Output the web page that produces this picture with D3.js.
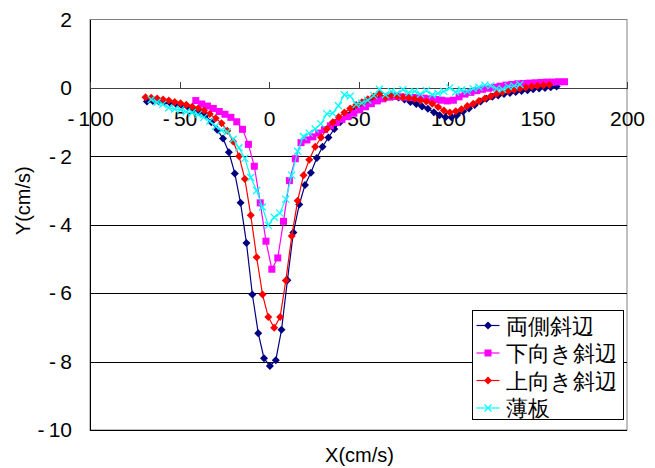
<!DOCTYPE html>
<html>
<head>
<meta charset="utf-8">
<script src="https://cdn.jsdelivr.net/npm/d3@7"></script>
<style>
  body { margin: 0; background: #fff; }
  text { font-family: "Liberation Sans", Arial, sans-serif; }
</style>
</head>
<body>
<div id="graf"></div>
<script>
// Velocity profile chart: Y(cm/s) against X(cm/s), four series

// Data
seriesNames = ['両側斜辺', '下向き斜辺', '上向き斜辺', '薄板']

xRyosoku = [-68.2, -64.9, -61.6, -58.4, -55.1, -51.8, -48.6, -45.3, -42.0, -38.7, -35.5, -32.2, -28.9, -25.7, -22.4, -19.1, -15.9, -12.6, -9.3, -6.0, -2.8, 0.5, 3.8, 7.0, 10.3, 13.6, 16.9, 20.1, 23.4, 26.7, 29.9, 33.2, 36.5, 39.7, 43.0, 46.3, 49.6, 52.8, 56.1, 59.4, 62.6, 65.9, 69.2, 72.4, 75.7, 79.0, 82.3, 85.5, 88.8, 92.1, 95.3, 98.6, 101.9, 105.1, 108.4, 111.7, 114.9, 118.2, 121.5, 124.8, 128.0, 131.3, 134.6, 137.8, 141.1, 144.4, 147.6, 150.9, 154.2, 157.4, 160.7]
yRyosoku = [-0.40, -0.38, -0.40, -0.42, -0.45, -0.48, -0.52, -0.56, -0.62, -0.70, -0.80, -1.00, -1.22, -1.48, -1.88, -2.50, -3.36, -4.53, -6.04, -7.17, -7.90, -8.13, -7.96, -7.07, -5.62, -4.23, -3.41, -2.84, -2.48, -2.05, -1.72, -1.45, -1.20, -1.00, -0.78, -0.64, -0.54, -0.45, -0.38, -0.32, -0.28, -0.26, -0.26, -0.28, -0.34, -0.41, -0.47, -0.54, -0.61, -0.71, -0.80, -0.86, -0.86, -0.79, -0.69, -0.60, -0.50, -0.40, -0.32, -0.26, -0.22, -0.18, -0.15, -0.12, -0.09, -0.07, -0.04, -0.02, 0.00, 0.02, 0.04]

xShitamuki = [-40.9, -37.6, -34.4, -31.1, -27.8, -24.6, -21.3, -18.0, -14.8, -11.5, -8.2, -4.9, -1.7, 1.6, 4.9, 8.1, 11.4, 14.7, 17.9, 21.2, 24.5, 27.8, 31.0, 34.3, 37.6, 40.8, 44.1, 47.4, 50.7, 53.9, 57.2, 60.5, 63.7, 67.0, 70.3, 73.5, 76.8, 80.1, 83.4, 86.6, 89.9, 93.2, 96.4, 99.7, 103.0, 106.2, 109.5, 112.8, 116.1, 119.3, 122.6, 125.9, 129.1, 132.4, 135.7, 138.9, 142.2, 145.5, 148.8, 152.0, 155.3, 158.6, 161.8, 165.1]
yShitamuki = [-0.37, -0.47, -0.53, -0.60, -0.69, -0.77, -0.86, -0.99, -1.21, -1.65, -2.29, -3.36, -4.48, -5.30, -4.97, -3.90, -2.71, -2.07, -1.60, -1.52, -1.43, -1.32, -1.22, -1.11, -1.01, -0.92, -0.84, -0.74, -0.64, -0.55, -0.46, -0.38, -0.32, -0.27, -0.25, -0.26, -0.27, -0.28, -0.29, -0.30, -0.32, -0.34, -0.36, -0.38, -0.36, -0.26, -0.18, -0.13, -0.08, -0.04, -0.01, 0.02, 0.05, 0.08, 0.10, 0.12, 0.13, 0.14, 0.15, 0.16, 0.17, 0.17, 0.18, 0.18]

xUwamuki = [-69.0, -65.8, -62.5, -59.2, -56.0, -52.7, -49.4, -46.2, -42.9, -39.6, -36.3, -33.1, -29.8, -26.5, -23.3, -20.0, -16.7, -13.5, -10.2, -6.9, -3.6, -0.4, 2.9, 6.2, 9.4, 12.7, 16.0, 19.3, 22.5, 25.8, 29.1, 32.3, 35.6, 38.9, 42.1, 45.4, 48.7, 51.9, 55.2, 58.5, 61.8, 65.0, 68.3, 71.6, 74.8, 78.1, 81.4, 84.6, 87.9, 91.2, 94.5, 97.7, 101.0, 104.3, 107.5, 110.8, 114.1, 117.3, 120.6, 123.9, 127.1, 130.4, 133.7, 137.0, 140.2, 143.5, 146.8, 150.0, 153.3, 156.6]
yUwamuki = [-0.27, -0.29, -0.31, -0.34, -0.37, -0.41, -0.45, -0.49, -0.55, -0.60, -0.66, -0.76, -0.89, -1.03, -1.25, -1.57, -2.00, -2.66, -3.72, -4.95, -6.04, -6.70, -7.01, -6.70, -5.63, -4.33, -3.30, -2.55, -2.10, -1.72, -1.45, -1.20, -1.00, -0.85, -0.72, -0.60, -0.50, -0.42, -0.33, -0.25, -0.16, -0.28, -0.22, -0.24, -0.27, -0.29, -0.32, -0.36, -0.40, -0.46, -0.56, -0.66, -0.72, -0.68, -0.62, -0.53, -0.46, -0.38, -0.31, -0.24, -0.18, -0.13, -0.09, -0.05, -0.02, 0.01, 0.04, 0.06, 0.08, 0.09]

xHakuban = [-65.8, -62.5, -59.3, -56.0, -52.7, -49.5, -46.2, -42.9, -39.6, -36.4, -33.1, -29.8, -26.6, -23.3, -20.0, -16.8, -13.5, -10.2, -6.9, -3.7, -0.4, 2.9, 6.1, 9.4, 12.7, 16.0, 19.2, 22.5, 25.8, 29.0, 32.3, 35.6, 38.8, 42.1, 45.4, 48.7, 51.9, 55.2, 58.5, 61.7, 65.0, 68.3, 71.5, 74.8, 78.1, 81.4, 84.6, 87.9, 91.2, 94.4, 97.7, 101.0, 104.2, 107.5, 110.8, 114.1, 117.3, 120.6, 123.9, 127.1, 130.4, 133.7, 136.9, 140.2]
yHakuban = [-0.34, -0.42, -0.48, -0.58, -0.62, -0.64, -0.70, -0.72, -0.78, -0.86, -0.97, -1.12, -1.24, -1.28, -1.50, -1.75, -2.06, -2.62, -3.00, -3.48, -4.02, -3.78, -3.66, -3.25, -2.55, -1.85, -1.42, -1.32, -1.20, -1.05, -0.76, -0.74, -0.52, -0.20, -0.24, -0.48, -0.44, -0.36, -0.22, -0.04, -0.20, -0.10, -0.16, -0.05, -0.14, -0.10, -0.18, -0.08, -0.20, -0.16, -0.10, 0.00, -0.12, -0.06, -0.10, -0.02, 0.02, 0.08, 0.06, -0.02, -0.04, 0.04, 0.06, 0.10]

xTicks = [-100, -50, 0, 50, 100, 150, 200]
yTicks = [2, 0, -2, -4, -6, -8, -10]

// Excel-style labels: small gap after the minus sign
fmt = d => d < 0 ? '-\u2009' + Math.abs(d) : String(d)

// I. Setup
ancho_total = 655
alto_total  = 468

plot = { left: 90, right: 627, top: 19.5, bottom: 430 }

svg = d3.select('#graf').append('svg')
        .attr('width', ancho_total)
        .attr('height', alto_total)

svg.append('rect')
   .attr('width', ancho_total)
   .attr('height', alto_total)
   .attr('fill', '#ffffff')

x = d3.scaleLinear().domain([-100, 200]).range([plot.left, plot.right])
y = d3.scaleLinear().domain([-10, 2]).range([plot.bottom, plot.top])

// plot area border (gray)
svg.append('rect')
   .attr('x', plot.left)
   .attr('y', plot.top)
   .attr('width', plot.right - plot.left)
   .attr('height', plot.bottom - plot.top)
   .attr('fill', 'none')
   .attr('stroke', '#808080')

// horizontal gridlines
yGrid = d3.axisLeft(y)
          .tickValues(yTicks.filter(d => d != 2))
          .tickSize(-(plot.right - plot.left))
          .tickFormat('')
gGrid = svg.append('g')
   .attr('transform', `translate(${plot.left},0)`)
   .call(yGrid)
gGrid.select('.domain').remove()
gGrid.selectAll('line').attr('stroke', '#000000').attr('shape-rendering', 'crispEdges')

// Y axis with labels
yAxis = d3.axisLeft(y)
          .tickValues(yTicks)
          .tickSize(0)
          .tickPadding(18)
          .tickFormat(fmt)
gY = svg.append('g')
   .attr('transform', `translate(${plot.left},0)`)
   .call(yAxis)
gY.select('.domain').attr('stroke', '#000000').attr('shape-rendering', 'crispEdges')
gY.selectAll('text')
  .attr('font-size', '21px')
  .attr('font-family', '"Liberation Sans", Arial, sans-serif')
  .attr('fill', '#000')

// X axis sits at y = 0, ticks pointing up, labels below
xAxis = d3.axisTop(x)
          .tickValues(xTicks)
          .tickSize(6)
          .tickFormat(fmt)
gX = svg.append('g')
   .attr('transform', `translate(0,${y(0)})`)
   .call(xAxis)
gX.select('.domain').attr('stroke', '#404040').attr('shape-rendering', 'crispEdges')
gX.selectAll('line').attr('stroke', '#404040').attr('shape-rendering', 'crispEdges')
gX.selectAll('text')
  .attr('y', 38)
  .attr('font-size', '21px')
  .attr('font-family', '"Liberation Sans", Arial, sans-serif')
  .attr('fill', '#000')

// axis titles
svg.append('text')
   .attr('x', (plot.left + plot.right) / 2 + 1)
   .attr('y', 462)
   .attr('text-anchor', 'middle')
   .attr('font-size', '20px')
   .text('X(cm/s)')

svg.append('text')
   .attr('transform', `translate(30, ${(plot.top + plot.bottom) / 2 - 24}) rotate(-90)`)
   .attr('text-anchor', 'middle')
   .attr('font-size', '20px')
   .text('Y(cm/s)')

// II. Series
series = [
  { name: seriesNames[0], xs: xRyosoku,   ys: yRyosoku,   color: '#000080', marker: 'diamond' },
  { name: seriesNames[1], xs: xShitamuki, ys: yShitamuki, color: '#FF00FF', marker: 'square' },
  { name: seriesNames[2], xs: xUwamuki,   ys: yUwamuki,   color: '#FF0000', marker: 'diamond' },
  { name: seriesNames[3], xs: xHakuban,   ys: yHakuban,   color: '#00FFFF', marker: 'cross' }
]

linea = d3.line().x(d => x(d[0])).y(d => y(d[1]))

function drawMarker(sel, kind, color) {
  if (kind == 'diamond') {
    sel.append('path')
       .attr('d', 'M0,-4L4,0L0,4L-4,0Z')
       .attr('fill', color)
  } else if (kind == 'square') {
    sel.append('rect')
       .attr('x', -3.5).attr('y', -3.5)
       .attr('width', 7).attr('height', 7)
       .attr('fill', color)
  } else {
    sel.append('path')
       .attr('d', 'M-3.5,-3.5L3.5,3.5M-3.5,3.5L3.5,-3.5')
       .attr('stroke', color)
       .attr('stroke-width', 1.2)
       .attr('fill', 'none')
  }
}

series.forEach(s => {
  pts = s.xs.map((v, i) => [v, s.ys[i]])
  svg.append('path')
     .datum(pts)
     .attr('d', linea)
     .attr('fill', 'none')
     .attr('stroke', s.color)
     .attr('stroke-width', 1.2)

  m = svg.append('g').selectAll('g')
     .data(pts)
     .enter()
     .append('g')
     .attr('transform', d => `translate(${x(d[0])},${y(d[1])})`)
  drawMarker(m, s.marker, s.color)
})

// III. Legend
leg = svg.append('g').attr('transform', 'translate(472.5,310.5)')
leg.append('rect')
   .attr('width', 151)
   .attr('height', 109)
   .attr('fill', '#ffffff')
   .attr('stroke', '#000000')

series.forEach((s, i) => {
  row = leg.append('g').attr('transform', `translate(0,${15 + i * 27.5})`)
  row.append('line')
     .attr('x1', 4).attr('x2', 27)
     .attr('stroke', s.color)
     .attr('stroke-width', 1.2)
  mk = row.append('g').attr('transform', 'translate(15.5,0)')
  drawMarker(mk, s.marker, s.color)
  row.append('text')
     .attr('x', 33)
     .attr('y', 8)
     .attr('font-size', '22px')
     .attr('font-family', '"Noto Sans CJK JP", sans-serif')
     .text(s.name)
})
</script>
</body>
</html>
